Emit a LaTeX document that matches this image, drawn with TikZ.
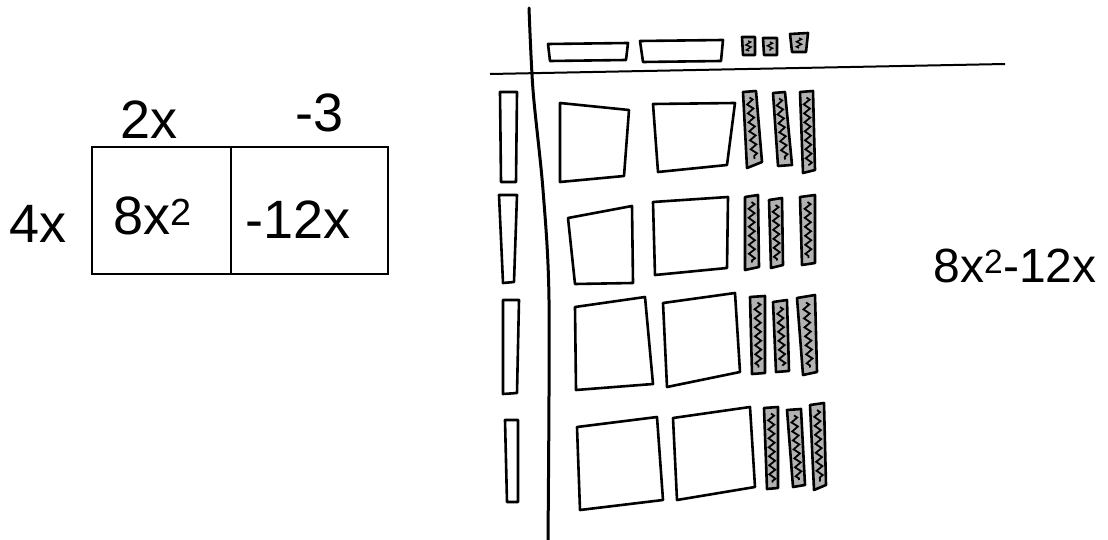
\documentclass[tikz,border=0pt]{standalone}
\usepackage{fontspec}
\setmainfont{Liberation Sans}
\usetikzlibrary{decorations.pathmorphing,calc}
\tikzset{
  hand/.style={font=\fontsize{54}{56}\selectfont, inner sep=0pt},
  cellbox/.style={draw, line width=2.6pt, inner sep=0pt},
  tilebox/.style={draw, line width=2.6pt, line join=round},
  ntile/.style={draw, line width=2.6pt, fill=gray!60, line join=round},
  wave/.style={decorate, decoration={zigzag, amplitude=3pt, segment length=9pt}, line width=1.8pt},
  smallwave/.style={decorate, decoration={zigzag, amplitude=2.5pt, segment length=5pt}, line width=1.4pt},
  axis/.style={line width=3pt, line cap=round}
}
\newcommand{\negtile}[8]{%
  \draw[ntile] (#1,#2) -- (#3,#4) -- (#5,#6) -- (#7,#8) -- cycle;
  \draw[wave] ($(#1,#2)!0.5!(#3,#4)+(0,6)$) -- ($(#7,#8)!0.5!(#5,#6)+(0,-6)$);
}
\begin{document}
\begin{tikzpicture}[x=1pt,y=-1pt]
\useasboundingbox (0,0) rectangle (1108,540);
\fill[white] (0,0) rectangle (1108,540);

% ---------- area model ----------
\node[cellbox, minimum width=139pt, minimum height=127pt] (c1) at (161.5,210.5) {};
\node[cellbox, minimum width=157pt, minimum height=127pt] (c2) at (309.5,210.5) {};
\node[hand] (top1) at (149,120) {2x};
\node[hand] (top2) at (320,113) {-3};
\node[hand] (left1) at (38,224) {4x};
\node[hand] (v1) at (153,216) {8x\textsuperscript{2}};
\node[hand] (v2) at (298,220) {-12x};

% ---------- axes ----------
\draw[axis] plot[smooth] coordinates {(529,8) (533,90) (543,190) (549,300) (548,540)};
\draw[line width=2pt] (490,74) -- (1005,64);

% ---------- top row tiles ----------
\draw[tilebox] (548,44) -- (628,43) -- (626,60) -- (550,61) -- cycle;
\draw[tilebox] (640,41) -- (723,40) -- (721,61) -- (643,62) -- cycle;
\draw[ntile] (742,37) -- (755,37) -- (755,55) -- (743,55) -- cycle;
\draw[ntile] (763,38) -- (777,38) -- (777,55) -- (764,55) -- cycle;
\draw[ntile] (790,34) -- (808,33) -- (806,52) -- (792,52) -- cycle;
\draw[smallwave] (748,41) -- (749,51);
\draw[smallwave] (770,42) -- (770,51);
\draw[smallwave] (799,38) -- (799,48);

% ---------- left column tiles ----------
\draw[tilebox] (500,92) -- (517,92) -- (516,182) -- (501,182) -- cycle;
\draw[tilebox] (499,195) -- (517,195) -- (514,282) -- (503,283) -- cycle;
\draw[tilebox] (503,300) -- (519,300) -- (517,393) -- (503,394) -- cycle;
\draw[tilebox] (505,420) -- (518,420) -- (518,502) -- (507,502) -- cycle;

% ---------- x^2 tiles ----------
\draw[tilebox] (560,103) -- (629,110) -- (624,176) -- (560,182) -- cycle;
\draw[tilebox] (653,104) -- (735,103) -- (727,165) -- (658,172) -- cycle;
\draw[tilebox] (568,218) -- (632,206) -- (633,283) -- (575,284) -- cycle;
\draw[tilebox] (653,202) -- (728,197) -- (727,268) -- (655,275) -- cycle;
\draw[tilebox] (575,307) -- (645,297) -- (653,384) -- (576,390) -- cycle;
\draw[tilebox] (663,303) -- (735,293) -- (740,372) -- (667,387) -- cycle;
\draw[tilebox] (577,427) -- (657,417) -- (663,500) -- (580,510) -- cycle;
\draw[tilebox] (673,418) -- (750,407) -- (755,487) -- (677,500) -- cycle;

% ---------- negative x tiles ----------
\negtile{743}{92}{756}{91}{762}{162}{747}{168}
\negtile{773}{93}{785}{92}{792}{165}{778}{166}
\negtile{800}{92}{813}{91}{815}{170}{803}{173}
\negtile{745}{197}{758}{195}{759}{267}{745}{270}
\negtile{769}{200}{782}{198}{783}{265}{771}{268}
\negtile{800}{197}{815}{195}{815}{263}{802}{265}
\negtile{750}{297}{765}{296}{765}{373}{752}{374}
\negtile{773}{302}{787}{300}{789}{371}{776}{372}
\negtile{797}{298}{815}{295}{817}{372}{803}{375}
\negtile{764}{408}{778}{407}{778}{488}{767}{489}
\negtile{787}{410}{801}{409}{805}{485}{793}{487}
\negtile{810}{405}{824}{403}{826}{485}{814}{490}

% ---------- result ----------
\node[hand, font=\fontsize{48}{50}\selectfont] (res) at (1015,266) {8x\textsuperscript{2}-12x};
\end{tikzpicture}
\end{document}
